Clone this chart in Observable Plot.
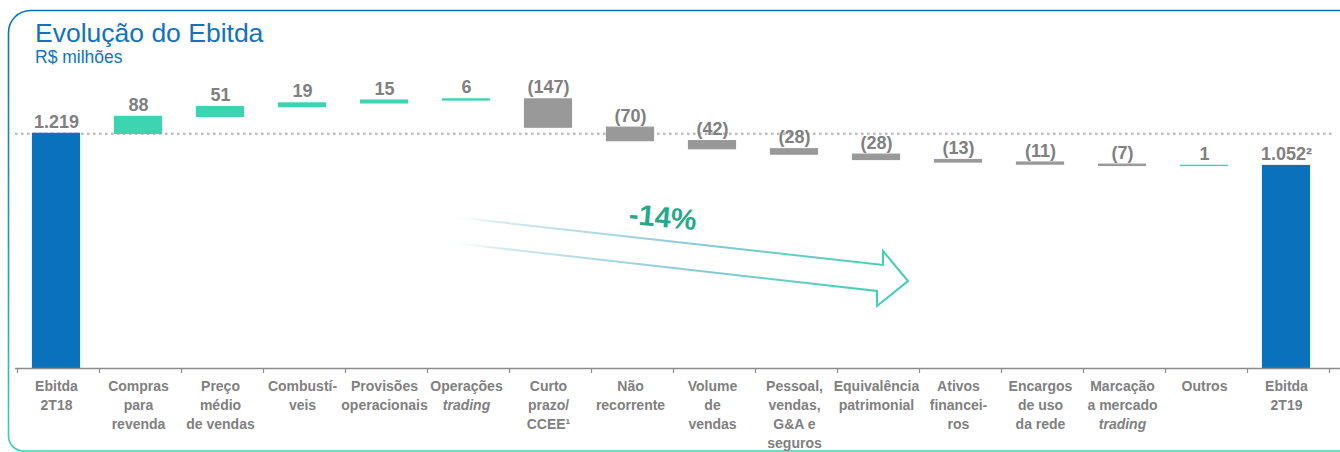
<!DOCTYPE html>
<html>
<head>
<meta charset="utf-8">
<script src="https://cdn.jsdelivr.net/npm/d3@7"></script>
<script src="https://cdn.jsdelivr.net/npm/@observablehq/plot@0.6"></script>
<style>
  body { margin: 0; background: #fff; font-family: "Liberation Sans", Arial, sans-serif; }
  #wrap { position: relative; width: 1340px; height: 452px; overflow: hidden; }
  #chart, #deco { position: absolute; left: 0; top: 0; }
  .title { position: absolute; left: 35px; top: 19.5px; font-size: 26.5px; line-height: 1; color: #1173bd; }
  .sub { position: absolute; left: 35px; top: 49px; font-size: 17.5px; line-height: 1; color: #1173bd; }
</style>
</head>
<body>
<div id="wrap">
  <svg id="deco" width="1340" height="452" viewBox="0 0 1340 452">
    <defs>
      <linearGradient id="frameGrad" gradientUnits="userSpaceOnUse" x1="0" y1="10" x2="0" y2="451">
        <stop offset="0" stop-color="#0a70bd"/>
        <stop offset="0.6" stop-color="#1f9fc0"/>
        <stop offset="1" stop-color="#3dd2b2"/>
      </linearGradient>
    </defs>
    <path d="M 1341 10.5 L 30.5 10.5 A 22 22 0 0 0 8.5 32.5 L 8.5 436 A 15 15 0 0 0 23.5 451 L 1341 451"
          fill="none" stroke="url(#frameGrad)" stroke-width="1.6"/>
  </svg>
  <div id="chart"></div>
  <svg id="deco2" width="1340" height="452" viewBox="0 0 1340 452" style="position:absolute;left:0;top:0;pointer-events:none">
    <defs>
      <linearGradient id="arrowGrad2" gradientUnits="userSpaceOnUse" x1="440" y1="0" x2="900" y2="0">
        <stop offset="0" stop-color="#ffffff" stop-opacity="0"/>
        <stop offset="0.12" stop-color="#d6ebf3"/>
        <stop offset="0.5" stop-color="#92cade"/>
        <stop offset="1" stop-color="#3ccfb0"/>
      </linearGradient>
    </defs>
    <polyline points="453,217 883,265 883,251 908,281 877,306 877,291 453,243"
              fill="none" stroke="url(#arrowGrad2)" stroke-width="2" stroke-linejoin="miter"/>
    <text x="663" y="227" text-anchor="middle" font-family="Liberation Sans, Arial, sans-serif"
          font-weight="bold" font-size="29" fill="#28a88a" transform="rotate(5 663 216)">-14%</text>
  </svg>
  <div class="title">Evolução do Ebitda</div>
  <div class="sub">R$ milhões</div>
</div>
<script>
// ---- data ----
const categories = [
  "Ebitda 2T18", "Compras para revenda", "Preço médio de vendas", "Combustíveis",
  "Provisões operacionais", "Operações trading", "Curto prazo/CCEE", "Não recorrente",
  "Volume de vendas", "Pessoal, vendas, G&A e seguros", "Equivalência patrimonial",
  "Ativos financeiros", "Encargos de uso da rede", "Marcação a mercado trading",
  "Outros", "Ebitda 2T19"
];
const kinds = ["total","delta","delta","delta","delta","delta","delta","delta",
               "delta","delta","delta","delta","delta","delta","delta","total"];
const values = [1219, 88, 51, 19, 15, 6, -147, -70, -42, -28, -28, -13, -11, -7, 1, 1052];
const valueLabels = ["1.219","88","51","19","15","6","(147)","(70)","(42)","(28)","(28)",
                     "(13)","(11)","(7)","1","1.052²"];
// tick label lines; a leading "*" marks an italic line
const tickLines = [
  ["Ebitda","2T18"],
  ["Compras","para","revenda"],
  ["Preço","médio","de vendas"],
  ["Combustí-","veis"],
  ["Provisões","operacionais"],
  ["Operações","*trading"],
  ["Curto","prazo/","CCEE¹"],
  ["Não","recorrente"],
  ["Volume","de","vendas"],
  ["Pessoal,","vendas,","G&A e","seguros"],
  ["Equivalência","patrimonial"],
  ["Ativos","financei-","ros"],
  ["Encargos","de uso","da rede"],
  ["Marcação","a mercado","*trading"],
  ["Outros"],
  ["Ebitda","2T19"]
];
const referenceLevel = 1219;

// ---- colours ----
const colTotal = "#0a72bc", colUp = "#3dd4b0", colDown = "#999999", colText = "#808080";

// ---- build waterfall rows ----
let running = 0;
const rows = categories.map((cat, i) => {
  let y1, y2, fill;
  if (kinds[i] === "total") {
    y1 = 0; y2 = values[i]; running = values[i]; fill = colTotal;
  } else {
    y1 = running; y2 = running + values[i]; running = y2;
    fill = values[i] >= 0 ? colUp : colDown;
  }
  return {cat, y1, y2, top: Math.max(y1, y2), fill, label: valueLabels[i]};
});

const lineRows = [];
tickLines.forEach((lines, i) => lines.forEach((t, k) => {
  const italic = t.startsWith("*");
  lineRows.push({cat: categories[i], k, italic, text: italic ? t.slice(1) : t});
}));

const W = 1340, H = 452;
const mL = 14.5, mR = 13.5, mB = 84;
const pxPerUnit = 0.1925;
const yMax = 1400;
const mT = (H - mB) - yMax * pxPerUnit;
const step = (W - mL - mR) / categories.length;
const barWidth = 47;
const inset = (step - barWidth) / 2;
const tickLen = 5 / pxPerUnit;

const labelMarks = [];
for (let k = 0; k < 4; k++) {
  for (const it of [false, true]) {
    const sub = lineRows.filter(r => r.k === k && r.italic === it);
    if (!sub.length) continue;
    labelMarks.push(Plot.text(sub, {
      x: "cat", text: "text", frameAnchor: "bottom", lineAnchor: "bottom",
      dy: 22 + 19 * k, fontSize: 14, fontWeight: "bold",
      fontStyle: it ? "italic" : "normal", fill: colText
    }));
  }
}

const chart = Plot.plot({
  width: W, height: H,
  marginLeft: mL, marginRight: mR, marginTop: mT, marginBottom: mB,
  style: {background: "transparent", fontFamily: "'Liberation Sans', Arial, sans-serif", overflow: "visible"},
  x: {domain: categories, padding: 0, axis: null},
  y: {domain: [0, yMax], axis: null},
  color: {type: "identity"},
  marks: [
    Plot.ruleY([referenceLevel], {stroke: "#bdbdbd", strokeWidth: 2.5, strokeDasharray: "2.5,3.5",
                                  insetLeft: 0.5, insetRight: -8}),
    Plot.barY(rows, {x: "cat", y1: "y1", y2: "y2", fill: "fill", stroke: "fill", strokeWidth: 1.2,
                     insetLeft: inset, insetRight: inset}),
    Plot.text(rows, {x: "cat", y: "top", text: "label", dy: -6, lineAnchor: "bottom",
                     fontSize: 18, fontWeight: "bold", fill: colText}),
    Plot.ruleY([0], {stroke: "#8c8c8c", strokeWidth: 1.5, insetLeft: 0.5, insetRight: -14}),
    Plot.ruleX(categories, {x: d => d, dx: -step / 2 + 2, y1: 0, y2: -tickLen, stroke: "#8c8c8c", strokeWidth: 1.2}),
    Plot.ruleX(categories.slice(-1), {x: d => d, dx: step / 2 + 2, y1: 0, y2: -tickLen, stroke: "#8c8c8c", strokeWidth: 1.2}),
    ...labelMarks
  ]
});
document.getElementById("chart").appendChild(chart);
</script>
</body>
</html>
